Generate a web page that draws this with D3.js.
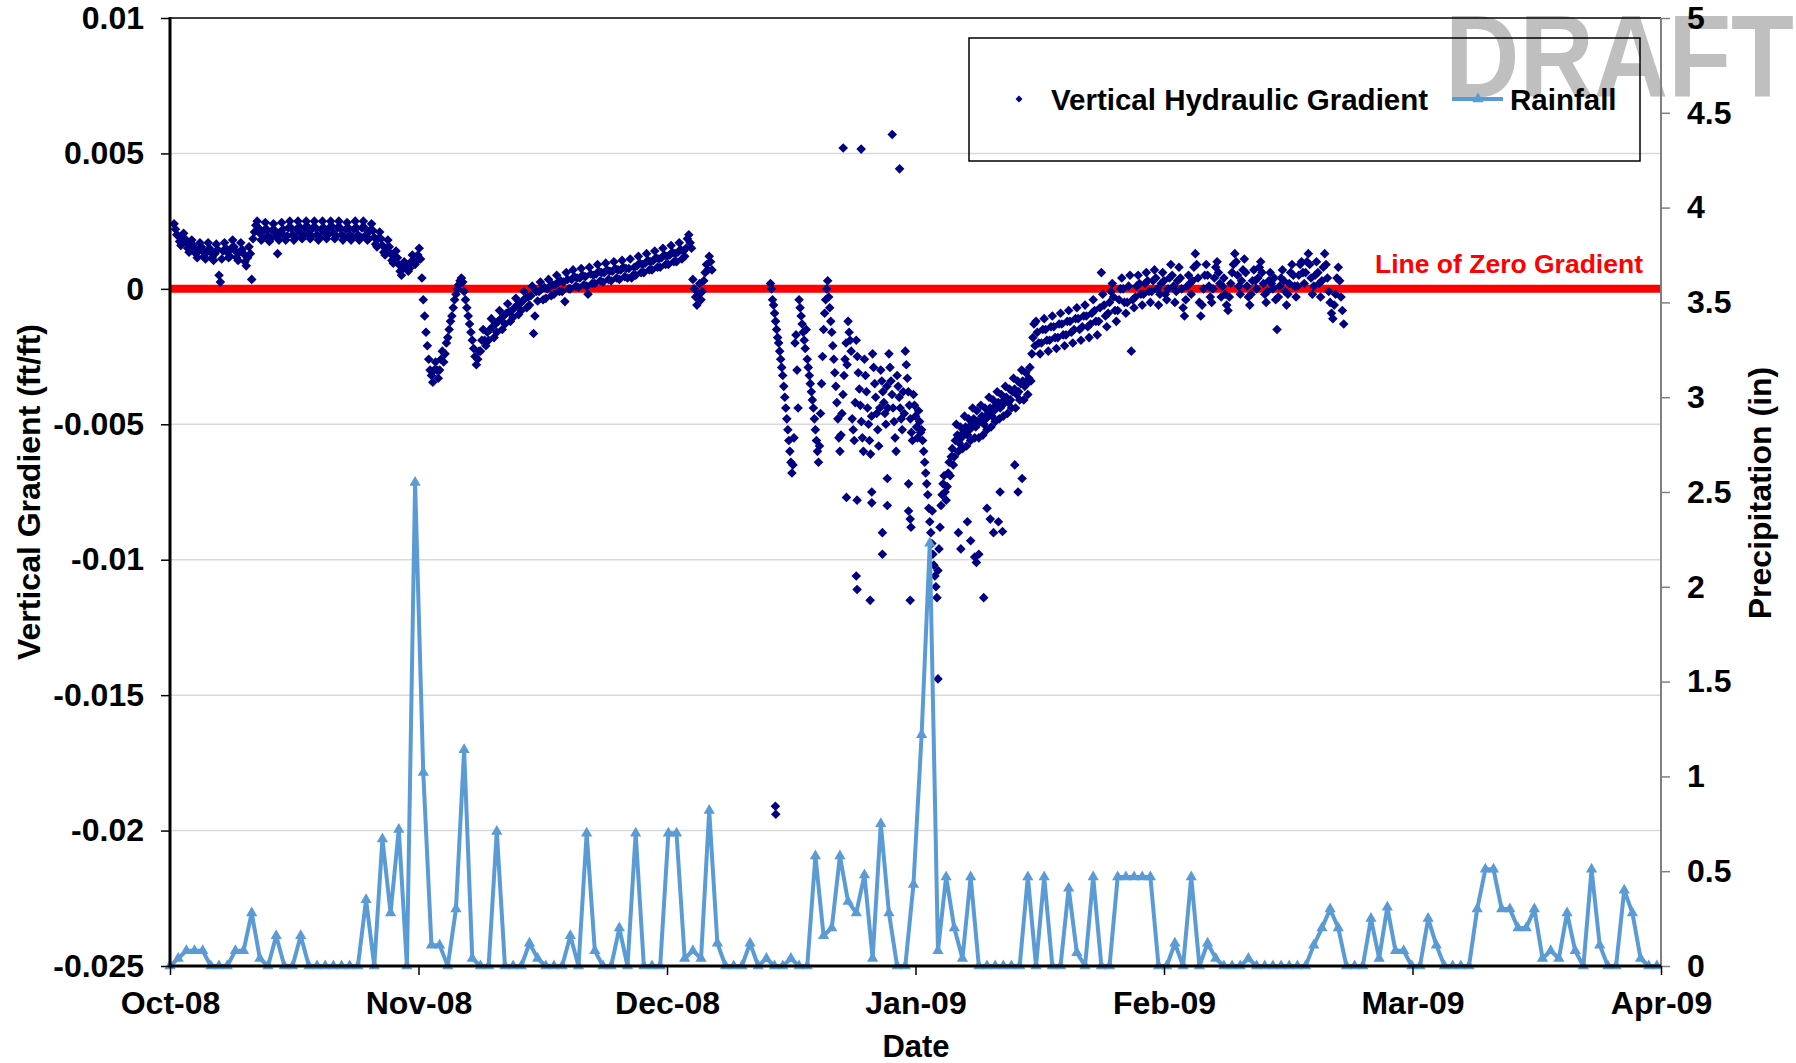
<!DOCTYPE html>
<html><head><meta charset="utf-8">
<script src="https://cdn.jsdelivr.net/npm/d3@7"></script>
<style>
body{margin:0;background:#fff}
text{font-family:"Liberation Sans",Arial,sans-serif;font-weight:bold}
</style>
</head><body>
<svg id="c" width="1796" height="1063"></svg>
<script>
// ---------- DATA ----------
const monthLabels = ["Oct-08","Nov-08","Dec-08","Jan-09","Feb-09","Mar-09","Apr-09"];
const gradientTicks = [-0.025,-0.02,-0.015,-0.01,-0.005,0,0.005,0.01];
const precipTicks = [0,0.5,1,1.5,2,2.5,3,3.5,4,4.5,5];

// daily rainfall (in), Oct 1 2008 .. Apr 1 2009
const rainOct = [0,0.04,0.08,0.08,0.08,0,0,0,0.08,0.08, 0.28,0.04,0,0.16,0,0,0.16,0,0,0, 0,0,0,0,0.35,0,0.67,0.28,0.72,0, 2.55];
const rainNov = [1.02,0.11,0.11,0,0.30,1.14,0.04,0,0,0.71, 0,0,0,0.12,0.04,0,0,0,0.16,0, 0.7,0.08,0,0,0.2,0,0.7,0,0,0];
const rainDec = [0.7,0.7,0.04,0.08,0.04,0.82,0.12,0,0,0, 0.12,0,0.04,0,0,0.04,0,0,0.58,0.16, 0.2,0.58,0.34,0.28,0.48,0.04,0.75,0.28,0,0, 0.43];
const rainJan = [1.22,2.23,0.08,0.47,0.2,0.04,0.47,0,0,0, 0,0,0,0.47,0,0.47,0,0,0.41,0.07, 0,0.47,0,0,0.47,0.47,0.47,0.47,0.47,0, 0];
const rainFeb = [0.12,0,0.47,0,0.12,0.04,0,0,0,0.04, 0,0,0,0,0,0,0,0.11,0.2,0.3, 0.2,0,0,0,0.25,0.04,0.31,0.08];
const rainMar = [0.08,0,0,0.25,0.11,0,0,0,0,0.3, 0.51,0.51,0.3,0.3,0.2,0.2,0.3,0.04,0.08,0.04, 0.28,0.08,0,0.51,0.11,0,0,0.4,0.28,0.04, 0];
const rainApr = [0];

// vertical hydraulic gradient readings, in 0.001 ft/ft
// Oct 1 12:00 -> Dec 7, every 4 h (six readings per day)
const gradOctDecStart = 0.5, gradOctDecStep = 1/6;
const gradOctDec = [
 2.4,2.2,2.0,
 1.95,1.75,1.6,1.8,2.05,1.85,  1.7,1.5,1.35,1.55,1.8,1.6,    1.5,1.3,1.15,1.4,1.7,1.55,
 1.4,1.2,1.1,1.35,1.7,1.5,     1.35,1.15,1.05,1.3,1.65,1.45, 0.5,0.25,1.1,1.4,1.7,1.5,
 1.35,1.15,1.2,1.5,1.8,1.55,   1.4,1.15,1.05,1.35,1.7,1.45,  1.3,1.0,0.85,1.15,1.55,1.3,
 0.35,1.85,2.1,2.35,2.5,2.25,  2.05,1.8,1.85,2.15,2.45,2.2,  1.95,1.75,1.85,2.15,2.4,2.15,
 1.95,1.3,1.8,2.1,2.45,2.2,    1.95,1.8,1.95,2.25,2.5,2.25,  2.0,1.8,1.9,2.2,2.5,2.3,
 2.05,1.85,1.95,2.25,2.5,2.3,  2.05,1.85,1.95,2.25,2.5,2.25, 2.0,1.8,1.9,2.2,2.5,2.25,
 2.05,1.85,2.0,2.25,2.5,2.3,   2.05,1.85,1.95,2.25,2.5,2.25, 2.0,1.8,1.9,2.2,2.45,2.25,
 2.0,1.8,1.9,2.2,2.5,2.25,     2.0,1.8,1.9,2.25,2.5,2.25,    2.0,1.8,1.85,2.15,2.4,2.15,
 1.9,1.65,1.55,1.85,2.1,1.85,  1.6,1.35,1.25,1.5,1.8,1.55,   1.3,1.05,0.95,1.15,1.4,1.15,
 0.9,0.65,0.5,0.75,1.0,0.85,   0.8,0.65,0.75,1.0,1.25,1.05,  0.9,1.0,1.25,1.5,1.1,0.4,
 -0.4,-1.0,-1.6,-2.1,-2.6,-3.0, -3.2,-3.45,-3.0,-2.7,-3.0,-3.3, -3.0,-2.6,-2.3,-2.7,-2.4,-2.0,
 -1.8,-1.5,-1.2,-1.0,-0.7,-0.4, -0.2,0.0,0.15,0.3,0.4,0.25,     -0.1,-0.4,-0.7,-1.0,-1.3,-1.6,
 -1.9,-2.2,-2.5,-2.8,-2.6,-2.3, -2.3,-1.9,-1.5,-1.9,-2.1,-1.6,  -1.9,-1.5,-1.1,-1.4,-1.8,-1.3,
 -1.6,-1.2,-0.8,-1.1,-1.5,-1.0, -1.3,-0.9,-0.55,-0.85,-1.2,-0.8, -1.05,-0.7,-0.35,-0.6,-0.95,-0.55,
 -0.8,-0.45,-0.1,-0.35,-0.7,-0.3, -0.6,-0.25,0.1,-1.65,-1.0,-0.1, -0.45,-0.1,0.25,0.0,-0.4,0.05,
 -0.35,0.0,0.35,0.1,-0.25,0.15, -0.2,0.15,0.5,0.25,-0.1,0.3,   -0.1,0.25,-0.47,0.6,0.35,0.0,
 0.0,0.35,0.7,0.45,0.1,0.4,     0.05,0.4,0.75,0.5,0.15,0.45,   0.1,-0.2,0.8,0.55,0.2,0.5,
 0.2,0.55,0.9,0.65,0.3,0.6,     0.25,0.6,0.95,0.7,0.35,0.65,   0.3,0.65,1.0,0.75,0.4,0.7,
 0.35,0.7,1.05,0.8,0.45,0.75,   0.4,0.75,1.1,0.4,0.5,0.8,      0.5,0.85,1.2,0.95,0.6,0.9,
 0.6,0.95,1.3,1.05,0.7,1.0,     0.7,1.05,1.4,1.15,0.8,1.1,     0.8,1.15,1.5,1.25,0.9,1.2,
 0.9,1.25,1.6,1.35,1.0,1.3,     1.0,1.35,1.7,1.45,1.1,1.4,     1.2,1.5,1.85,2.0,1.7,1.5,
 0.35,0.0,-0.3,-0.6,-0.2,0.2,   -0.4,-0.1,0.3,0.6,0.9,0.7,     1.2,1.0,0.7
];
// Dec 14 12:00 -> Jan 14, every 3 h (eight readings per day)
const gradDecJanStart = 73.5, gradDecJanStep = 1/8;
const gradDecJan = [
 0.2,0.0,-0.4,-0.6,
 -0.9,-1.2,-1.5,-1.8,-2.0,-2.3,-2.6,-2.9,
 -3.2,-3.6,-4.0,-4.4,-4.8,-5.2,-5.6,-6.0,
 -6.4,-6.8,-6.5,-5.5,-2.0,-1.7,-3.0,-4.4,
 -0.4,-0.7,-1.0,-1.3,-1.6,-1.9,-2.2,-1.5,
 -2.6,-2.9,-3.2,-3.5,-3.8,-4.1,-4.4,-4.8,
 -5.2,-5.6,-6.0,-6.4,-5.8,-4.6,-3.5,-2.5,
 -1.5,-0.9,-0.4,0.0,0.3,-0.3,-0.7,-1.2,
 -1.6,-2.1,-2.6,-3.1,-3.6,-4.2,-4.8,-5.5,
 -6.0,-5.4,-4.6,-3.9,-3.2,-2.6,-2.0,-2.8,
 -1.2,-1.6,-1.9,-2.3,-4.8,-5.2,-5.6,-4.2,
 -1.9,-2.5,-3.1,-3.7,-4.3,-4.9,-5.5,-6.0,
 -2.6,-3.2,-3.8,-4.4,-5.0,-5.6,-6.1,-4.7,
 -2.4,-2.9,-3.5,-4.0,-4.6,-5.2,-5.8,-4.4,
 -3.0,-3.4,-3.8,-4.2,-4.6,-5.0,-3.6,-4.4,
 -2.4,-2.9,-3.4,-3.9,-4.4,-4.9,-5.5,-6.0,
 -3.2,-3.6,-4.0,-4.4,-4.8,-5.2,-3.8,-4.6,
 -2.3,-2.8,-3.3,-3.8,-4.3,-4.8,-5.3,-5.6,
 -3.9,-4.3,-4.7,-5.1,-5.5,-4.5,-4.9,-5.3,
 -5.2,-5.6,-6.0,-6.4,-6.8,-7.2,-7.6,-8.1,
 -8.6,-9.0,-9.4,-9.8,-10.2,-10.6,-11.0,-11.4,
 -10.4,-9.6,-8.8,-8.0,-7.6,-7.2,-6.9,-7.5,
 -7.8,-7.3,-6.8,-6.4,-6.9,-6.2,-5.9,-6.5,
 -6.2,-5.6,-5.0,-5.4,-6.0,-5.7,-5.1,-5.5,
 -5.9,-5.3,-4.7,-5.1,-5.8,-5.4,-4.8,-5.2,
 -5.6,-5.0,-4.4,-4.8,-5.5,-5.1,-4.5,-4.9,
 -5.5,-4.9,-4.3,-4.7,-5.4,-5.0,-4.4,-4.8,
 -5.2,-4.6,-4.0,-4.4,-5.1,-4.7,-4.1,-4.5,
 -4.9,-4.3,-3.8,-4.2,-4.8,-4.4,-3.9,-4.3,
 -4.7,-4.1,-3.6,-4.0,-4.6,-4.2,-3.7,-4.1,
 -4.4,-3.8,-3.3,-3.7,-4.4,-3.9,-3.4,-3.8,
 -4.1,-3.5,-3.0,-3.4,-4.1,-3.6,-3.1,-3.5,
 -3.9,-3.3,-2.9,-3.4,-2.4,-1.8,-1.3,-2.1
];
// Jan 15 -> Feb 21, every 4 h (six readings per day)
const gradJanFebStart = 106, gradJanFebStep = 1/6;
const gradJanFeb = [
 -1.2,-1.6,-2.0,-2.4,-2.0,-1.5,  -1.1,-1.5,-1.9,-2.3,-1.9,-1.4,  -1.0,-1.4,-1.8,-2.2,-1.8,-1.3,
 -0.9,-1.3,-1.7,-2.1,-1.7,-1.2,  -0.8,-1.2,-1.6,-2.0,-1.5,-1.1,  -0.7,-1.1,-1.5,-1.9,-1.4,-1.0,
 -0.6,-1.0,-1.4,-1.8,-1.3,-0.9,  -0.4,-0.8,-1.2,-1.7,-1.2,-0.7,  0.6,-0.2,-0.6,-1.0,-1.4,-0.9,
 -0.5,-0.1,0.2,-0.3,-0.8,-1.2,   -0.8,-0.4,0.0,0.4,0.0,-0.5,     -0.9,-0.5,0.1,0.5,-2.3,-0.4,
 -0.7,-0.3,0.1,0.5,0.2,-0.2,     -0.6,-0.2,0.2,0.6,0.3,-0.1,     -0.5,-0.1,0.3,0.7,0.4,0.0,
 -0.6,-0.2,0.2,0.6,0.3,-0.2,     -0.4,0.0,0.4,0.9,0.5,0.1,       -0.5,-0.1,0.3,0.8,0.4,0.0,
 -0.7,-1.0,-0.4,0.1,0.5,0.2,     -0.2,0.3,0.8,1.3,0.9,0.4,       -0.5,-1.0,-0.6,0.0,0.5,0.9,
 0.5,0.1,-0.3,-0.5,0.0,0.4,      0.8,1.0,0.6,0.2,-0.3,0.1,       0.4,-0.2,-0.6,-0.8,-0.3,0.2,
 0.6,0.9,1.3,1.0,0.5,0.1,        -0.2,0.3,0.7,1.1,0.6,0.1,       -0.3,-0.6,-0.2,0.3,0.7,0.3,
 0.0,0.4,0.8,1.0,0.6,0.2,        -0.2,-0.5,-0.1,0.3,0.6,0.2,     0.0,0.4,-0.4,-1.5,-0.3,0.1,
 0.4,0.7,0.3,-0.1,-0.6,-0.2,     0.2,0.6,0.9,0.5,0.1,-0.3,       0.1,0.5,0.9,1.0,0.6,0.2,
 0.6,1.0,1.3,0.9,0.4,-0.2,       0.1,0.5,1.0,0.6,0.2,-0.3,       0.3,0.8,1.3,0.9,0.4,-0.1,
 -0.5,-0.9,-1.1,-0.6,-0.2,0.4,   0.8,0.3,-0.3,-0.8,-1.3
];
// isolated readings (days after Oct 1, value in 0.001 ft/ft)
const outlierDays = [82.4,84.6,88.4,89.3, 74.1,74.15, 94.0,
 82.8,84.1,84.0,84.1,85.7,85.9,85.9,87.2,87.2,87.8,87.8,90.4,90.4,90.6,90.7,90.6,93.3,
 96.5,96.8,97.6,98.0,98.5,99.0,98.7,99.6,100.0,100.4,100.8,101.4,101.9,101.6,103.4,103.8,104.3];
const outlierValues = [5.2,5.16,5.7,4.43, -19.1,-19.4, -14.4,
 -7.7,-7.8,-10.6,-11.1,-11.5,-7.5,-7.9,-9.0,-9.8,-8.0,-7.0,-7.2,-8.2,-8.5,-8.8,-11.5,-8.2,
 -9.0,-9.6,-8.6,-9.3,-9.9,-9.8,-10.1,-11.4,-8.1,-8.5,-9.0,-8.6,-8.96,-7.5,-6.5,-7.5,-7.0];

// ---------- BUILD ----------
const rainfall = [].concat(rainOct, rainNov, rainDec, rainJan, rainFeb, rainMar, rainApr)
  .map((v,i)=>({day:i, v}));
const grad = [];
[[gradOctDec,gradOctDecStart,gradOctDecStep],[gradDecJan,gradDecJanStart,gradDecJanStep],[gradJanFeb,gradJanFebStart,gradJanFebStep]]
  .forEach(([arr,s,st]) => arr.forEach((v,i)=>grad.push({day:s+i*st, v:v/1000})));
outlierDays.forEach((d,i)=>grad.push({day:d, v:outlierValues[i]/1000}));

const svg = d3.select("#c");
const L=170, R=1661, T=18, B=966;
const xMax = 182.5;
const x = d3.scaleLinear().domain([0,xMax]).range([L,R]);
const yL = d3.scaleLinear().domain([-0.025,0.01]).range([B,T]);
const yR = d3.scaleLinear().domain([0,5]).range([B,T]);

// watermark (behind)
svg.append("text").attr("x",1445).attr("y",97).attr("font-size",116)
  .attr("fill","#bfbfbf").attr("textLength",349).attr("lengthAdjust","spacingAndGlyphs").text("DRAFT");

// gridlines
svg.append("g").selectAll("line").data(gradientTicks.slice(1,-1)).join("line")
  .attr("x1",L).attr("x2",R).attr("y1",d=>yL(d)).attr("y2",d=>yL(d))
  .attr("stroke","#d9d9d9").attr("stroke-width",1.5);

// zero line
svg.append("line").attr("x1",L).attr("x2",R).attr("y1",yL(0)).attr("y2",yL(0))
  .attr("stroke","#ff0000").attr("stroke-width",8);
svg.append("text").attr("x",1375).attr("y",273).attr("font-size",26.5).attr("fill","#ff0000")
  .text("Line of Zero Gradient");

// gradient points
const diamond = "M0,-4.8L4.8,0L0,4.8L-4.8,0Z";
svg.append("g").selectAll("path").data(grad).join("path")
  .attr("d",diamond).attr("fill","#000080")
  .attr("transform",d=>`translate(${x(d.day)},${yL(d.v)})`);

// rainfall
const rainColor = "#5b9bd5";
svg.append("path").datum(rainfall)
  .attr("d",d3.line().x(d=>x(d.day)).y(d=>yR(d.v)))
  .attr("fill","none").attr("stroke",rainColor).attr("stroke-width",4).attr("stroke-linejoin","round");
const tri = d3.symbol().type(d3.symbolTriangle).size(55)();
svg.append("g").selectAll("path").data(rainfall).join("path")
  .attr("d",tri).attr("fill",rainColor)
  .attr("transform",d=>`translate(${x(d.day)},${yR(d.v)})`);

// axes
const fs = 32;
const gL = svg.append("g").attr("transform",`translate(${L},0)`)
  .call(d3.axisLeft(yL).tickValues(gradientTicks).tickFormat(d=>String(d)).tickSize(9).tickPadding(17));
const gR = svg.append("g").attr("transform",`translate(${R},0)`)
  .call(d3.axisRight(yR).tickValues(precipTicks).tickFormat(d=>String(d)).tickSize(9).tickPadding(17));
const xt = d3.range(7).map(i=>i*xMax/6);
const gB = svg.append("g").attr("transform",`translate(0,${B})`)
  .call(d3.axisBottom(x).tickValues(xt).tickFormat((d,i)=>monthLabels[i]).tickSize(9).tickPadding(16));
[gL,gR,gB].forEach(g=>{
  g.select(".domain").remove();
  g.selectAll("text").attr("font-size",fs).attr("font-family",null).attr("fill","#000");
  g.selectAll(".tick line").attr("stroke-width",1.5);
});
gL.selectAll(".tick line").attr("stroke","#000");
gB.selectAll(".tick line").attr("stroke","#000");
gR.selectAll(".tick line").attr("stroke","#808080");

// frame
svg.append("line").attr("x1",L).attr("x2",R).attr("y1",T).attr("y2",T).attr("stroke","#000").attr("stroke-width",1.5);
svg.append("line").attr("x1",R).attr("x2",R).attr("y1",T).attr("y2",B).attr("stroke","#808080").attr("stroke-width",2);
svg.append("line").attr("x1",L).attr("x2",L).attr("y1",T-1).attr("y2",B+1.5).attr("stroke","#000").attr("stroke-width",3);
svg.append("line").attr("x1",L).attr("x2",R).attr("y1",B).attr("y2",B).attr("stroke","#000").attr("stroke-width",3);

// titles
svg.append("text").attr("transform","translate(40,492) rotate(-90)").attr("text-anchor","middle")
  .attr("font-size",32).text("Vertical Gradient (ft/ft)");
svg.append("text").attr("transform","translate(1771,493) rotate(-90)").attr("text-anchor","middle")
  .attr("font-size",32).text("Precipitation (in)");
svg.append("text").attr("x",916).attr("y",1057).attr("text-anchor","middle").attr("font-size",31).text("Date");

// legend
const lg = svg.append("g");
lg.append("rect").attr("x",969).attr("y",38).attr("width",671).attr("height",123)
  .attr("fill","none").attr("stroke","#000").attr("stroke-width",1.5);
lg.append("path").attr("d","M0,-3.5L3.5,0L0,3.5L-3.5,0Z").attr("fill","#000080").attr("transform","translate(1019,99)");
lg.append("text").attr("x",1051).attr("y",110).attr("font-size",29.5).text("Vertical Hydraulic Gradient");
lg.append("line").attr("x1",1452).attr("x2",1503).attr("y1",99).attr("y2",99).attr("stroke",rainColor).attr("stroke-width",4);
lg.append("path").attr("d",tri).attr("fill",rainColor).attr("transform","translate(1478,99)");
lg.append("text").attr("x",1510).attr("y",110).attr("font-size",29.5).text("Rainfall");
</script>
</body></html>
